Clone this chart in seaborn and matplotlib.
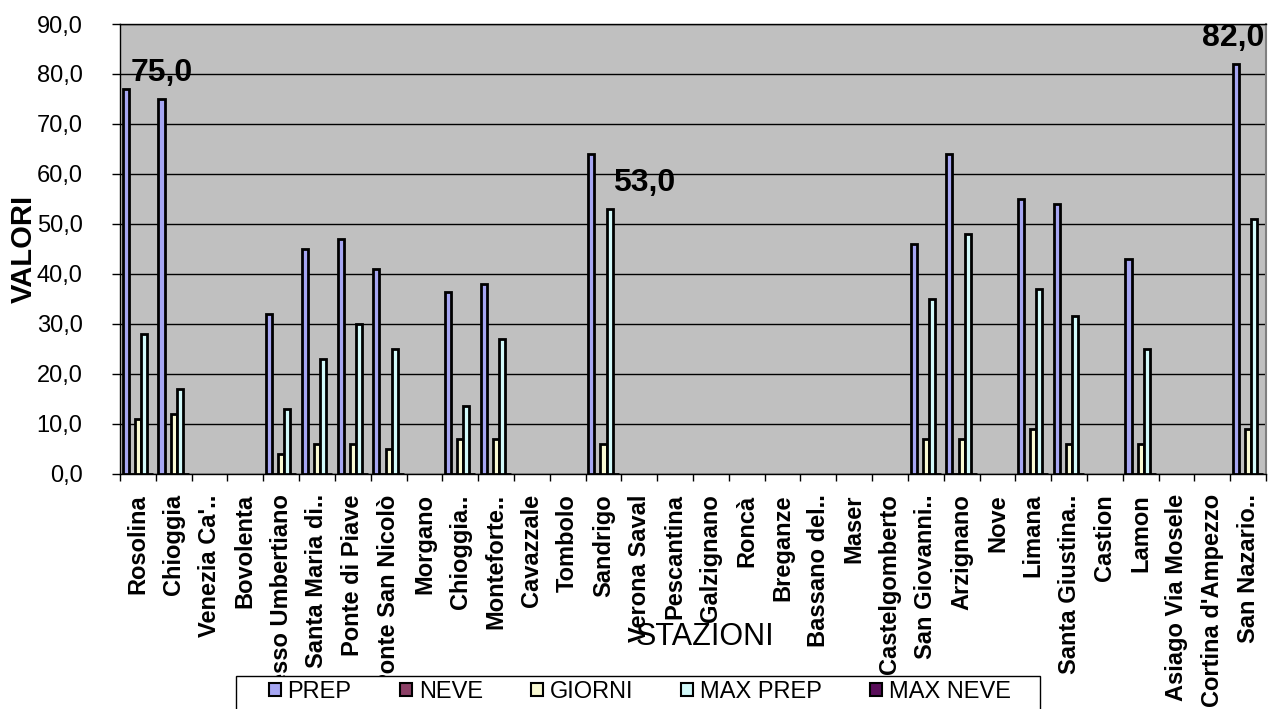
import numpy as np
import pandas as pd
import matplotlib
matplotlib.use("Agg")
import matplotlib.pyplot as plt
from matplotlib.patches import Rectangle
import seaborn as sns

# Stations along the category axis
stazioni = [
    "Rosolina", "Chioggia", "Venezia Ca'..", "Bovolenta", "Fiesso Umbertiano",
    "Santa Maria di..", "Ponte di Piave", "Ponte San Nicolò", "Morgano",
    "Chioggia..", "Monteforte..", "Cavazzale", "Tombolo", "Sandrigo",
    "Verona Saval", "Pescantina", "Galzignano", "Roncà", "Breganze",
    "Bassano del..", "Maser", "Castelgomberto", "San Giovanni..", "Arzignano",
    "Nove", "Limana", "Santa Giustina..", "Castion", "Lamon",
    "Asiago Via Mosele", "Cortina d'Ampezzo", "San Nazario..",
]

serie = ["PREP", "NEVE", "GIORNI", "MAX PREP", "MAX NEVE"]

# Values per series (None = station without data)
prep = [77, 75, None, None, 32, 45, 47, 41, None, 36.3, 38, None, None, 64,
        None, None, None, None, None, None, None, None, 46, 64, None, 55, 54,
        None, 43, None, None, 82]
neve = [0, 0, None, None, 0, 0, 0, 0, None, 0, 0, None, None, 0,
        None, None, None, None, None, None, None, None, 0, 0, None, 0, 0,
        None, 0, None, None, 0]
giorni = [11, 12, None, None, 4, 6, 6, 5, None, 7, 7, None, None, 6,
          None, None, None, None, None, None, None, None, 7, 7, None, 9, 6,
          None, 6, None, None, 9]
max_prep = [28, 17, None, None, 13, 23, 30, 25, None, 13.5, 27, None, None, 53,
            None, None, None, None, None, None, None, None, 35, 48, None, 37, 31.5,
            None, 25, None, None, 51]
max_neve = [0, 0, None, None, 0, 0, 0, 0, None, 0, 0, None, None, 0,
            None, None, None, None, None, None, None, None, 0, 0, None, 0, 0,
            None, 0, None, None, 0]

# Values printed above selected bars: (station, series)
etichette = [("Chioggia", "PREP"), ("Sandrigo", "MAX PREP"), ("San Nazario..", "PREP")]

colori = ["#9999FF", "#993366", "#FFFFCC", "#CCFFFF", "#660066"]

valori = dict(zip(serie, [prep, neve, giorni, max_prep, max_neve]))
righe = []
for s in serie:
    for st, v in zip(stazioni, valori[s]):
        if v is not None:
            righe.append({"Stazione": st, "Serie": s, "Valore": v})
df = pd.DataFrame(righe)

sns.set_style("white")
plt.rcParams["font.family"] = ["Liberation Sans", "DejaVu Sans"]
plt.rcParams.update({"text.color": "black", "axes.labelcolor": "black",
                     "xtick.color": "black", "ytick.color": "black"})

W, H = 1277, 709
fig = plt.figure(figsize=(W / 100, H / 100), dpi=100)
x0, x1, ytop, ybot = 120, 1266, 24, 473.5
ax = fig.add_axes([x0 / W, 1 - ybot / H, (x1 - x0) / W, (ybot - ytop) / H])
ax.set_facecolor("#C0C0C0")

sns.barplot(data=df, x="Stazione", y="Valore", hue="Serie",
            order=stazioni, hue_order=serie, palette=colori,
            width=0.85, edgecolor="black", linewidth=2,
            ax=ax, zorder=3)

ax.set_xlim(-0.5, len(stazioni) - 0.5)
ax.set_ylim(0, 90)
ax.set_yticks(np.arange(0, 91, 10))
ax.set_yticklabels([f"{v:.1f}".replace(".", ",") for v in np.arange(0, 91, 10)],
                   fontsize=17)
ax.yaxis.grid(True, color="black", linewidth=1, zorder=0)
ax.set_axisbelow(True)
ax.tick_params(axis="y", direction="out", length=6, width=1, pad=21,
               color="black", left=True)

# Category labels at centers, tick marks at category boundaries
ax.set_xticks(np.arange(len(stazioni)))
ax.set_xticklabels(stazioni, rotation=90, fontsize=17, fontweight="bold",
                   va="top", ha="center")
ax.set_xticks(np.arange(-0.5, len(stazioni)), minor=True)
ax.tick_params(axis="x", which="major", length=0, pad=15)
ax.tick_params(axis="x", which="minor", direction="out", length=5, width=1,
               color="black", bottom=True)

for side in ["left", "bottom", "top"]:
    ax.spines[side].set_color("black")
    ax.spines[side].set_linewidth(1)
ax.spines["right"].set_color("#808080")
ax.spines["right"].set_linewidth(1.5)

ax.set_ylabel("VALORI", fontsize=21, fontweight="bold")
ax.yaxis.set_label_coords(-0.072, 0.5)
ax.set_xlabel("STAZIONI", fontsize=22)
ax.xaxis.set_label_coords(0.51, -0.33)

# Value labels above selected bars
scarti = {"Chioggia": 0, "Sandrigo": 25, "San Nazario..": -2}
for st, s in etichette:
    cont = ax.containers[serie.index(s)]
    v = valori[s][stazioni.index(st)]
    idx = [i for i, x in enumerate(valori[s]) if x is not None].index(stazioni.index(st))
    bar = cont[idx]
    xc = bar.get_x() + bar.get_width() / 2
    ax.annotate(f"{v:.1f}".replace(".", ","), xy=(xc, bar.get_height()),
                xytext=(scarti[st], 13), textcoords="offset points",
                ha="center", va="baseline", fontsize=23, fontweight="bold",
                annotation_clip=False, zorder=5)

# Legend at the bottom: white boxed strip drawn over the axis labels
old = ax.get_legend()
handles = list(old.legend_handles)
labels = [t.get_text() for t in old.get_texts()]
old.remove()

legend_top = 1 - 676 / H
box = Rectangle((236 / W, -0.05), 804 / W, legend_top + 0.05,
                transform=fig.transFigure, facecolor="white",
                edgecolor="black", linewidth=1, zorder=4)
fig.add_artist(box)

leg = fig.legend(handles, labels, loc="upper left",
                 bbox_to_anchor=(264 / W, legend_top - 0.04, 752 / W, 0.04),
                 bbox_transform=fig.transFigure, mode="expand", ncol=5,
                 frameon=False, fontsize=17, handlelength=0.5,
                 handleheight=0.5, handletextpad=0.3, borderpad=0.2,
                 borderaxespad=0)
leg.set_zorder(6)
for h in leg.legend_handles:
    h.set_edgecolor("black")
    h.set_linewidth(1.5)

fig.savefig("out.png", dpi=100)
